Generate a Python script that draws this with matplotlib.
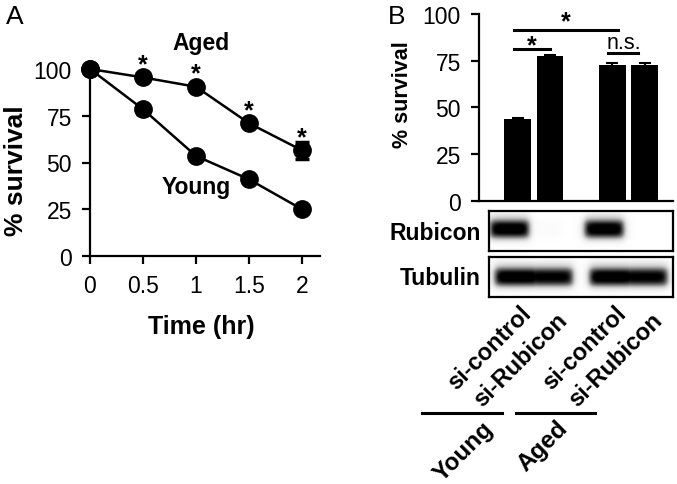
import numpy as np
import matplotlib
matplotlib.use("Agg")
import matplotlib.pyplot as plt

plt.rcParams['font.family'] = ['Liberation Sans', 'DejaVu Sans']

# Panel A data
time_hr = [0, 0.5, 1, 1.5, 2]
aged = [100, 95.5, 90.5, 71, 56.5]
aged_err = [0, 1.5, 1.5, 1.5, 4.5]
young = [100, 78.5, 53.5, 41, 25]
young_err = [0, 2.5, 1, 1, 1]
star_times = [0.5, 1, 1.5, 2]

# Panel B data
conditions = ['si-control', 'si-Rubicon', 'si-control', 'si-Rubicon']
groups = ['Young', 'Aged']
survival = [43.5, 77.5, 72.5, 72.5]
survival_err = [1, 0.5, 1.5, 1]
rubicon_level = [1.0, 0.03, 1.0, 0.0]
tubulin_level = [1.0, 0.95, 1.0, 0.95]

W, H = 677, 485
fig = plt.figure(figsize=(W / 100, H / 100), dpi=100)


def box(l, t, r, b):
    return [l / W, 1 - b / H, (r - l) / W, (b - t) / H]


def style(ax):
    for s in ['top', 'right']:
        ax.spines[s].set_visible(False)
    for s in ['left', 'bottom']:
        ax.spines[s].set_linewidth(1.6)
    ax.tick_params(width=1.6, length=6, labelsize=16.5, pad=7)


# ---------- Panel A ----------
axA = fig.add_axes(box(90, 70, 320, 257))
style(axA)
for vals, errs in [(aged, aged_err), (young, young_err)]:
    axA.errorbar(time_hr, vals, yerr=errs, color='black', lw=1.8, marker='o',
                 ms=12.5, capsize=5, capthick=2.5, elinewidth=2.5,
                 clip_on=False, zorder=3)
axA.set_xlim(0, 2.17)
axA.set_ylim(0, 100)
axA.set_xticks(time_hr)
axA.set_xticklabels(['0', '0.5', '1', '1.5', '2'])
axA.set_yticks([0, 25, 50, 75, 100])
for t in star_times:
    axA.annotate('*', (t, aged[time_hr.index(t)]), xytext=(0, 1),
                 textcoords='offset points', ha='center', va='bottom',
                 fontsize=18, fontweight='bold')
axA.text(1.05, 114, 'Aged', ha='center', va='center', fontsize=16.5, fontweight='bold')
axA.text(1.0, 37, 'Young', ha='center', va='center', fontsize=16.5, fontweight='bold')
axA.set_xlabel('Time (hr)', fontsize=18, fontweight='bold', va='center')
axA.xaxis.set_label_coords(0.483, -0.374)
axA.set_ylabel('% survival', fontsize=19, fontweight='bold', va='center')
axA.yaxis.set_label_coords(-0.322, 0.46)
fig.text(6 / W, 1 - 17 / H, 'A', fontsize=19, va='center')

# ---------- Panel B bars ----------
bar_x = [1, 2, 3.92, 4.92]
axB = fig.add_axes(box(479, 15, 673, 201.7))
style(axB)
axB.bar(bar_x, survival, width=0.83, color='black', yerr=survival_err,
        capsize=4, error_kw=dict(elinewidth=1.5, capthick=1.5))
axB.set_xlim(-0.185, 5.785)
axB.set_ylim(0, 100)
axB.set_yticks([0, 25, 50, 75, 100])
axB.set_xticks([])
axB.set_ylabel('% survival', fontsize=15.5, fontweight='bold', va='center')
axB.yaxis.set_label_coords(-0.392, 0.571)


def sig(x0, x1, y, label, dy, size, weight):
    axB.plot([x0, x1], [y, y], color='black', lw=2.2, clip_on=False)
    axB.text((x0 + x1) / 2, y + dy, label, ha='center', va='center',
             fontsize=size, fontweight=weight)


sig(0.9, 4.08, 91.5, '*', 4.5, 18, 'bold')
sig(0.9, 2.0, 81.5, '*', 1.5, 18, 'bold')
sig(3.8, 4.72, 79, 'n.s.', 6, 15.5, 'normal')
fig.text(388 / W, 1 - 17 / H, 'B', fontsize=19, va='center')


# ---------- Panel B blots ----------
def blot(ax, levels, offset, hw, yc, hh):
    xlo, xhi = 0.123, 5.785
    xs = np.linspace(xlo, xhi, 400)
    ys = np.linspace(0, 1, 80)
    X, Y = np.meshgrid(xs, ys)
    img = np.zeros_like(X)
    for c, a in zip(bar_x, levels):
        px = 1 / (1 + np.exp((np.abs(X - c - offset) - hw) / 0.06))
        py = 1 / (1 + np.exp((np.abs(Y - yc) - hh) / 0.05))
        halo = 0.25 / (1 + np.exp((np.abs(X - c - offset) - hw * 1.05) / 0.08)) \
            / (1 + np.exp((np.abs(Y - yc + 0.05) - hh * 1.7) / 0.06))
        img = np.maximum(img, a * (0.85 * px * py + halo))
    ax.imshow(img, extent=(xlo, xhi, 0, 1), origin='upper', aspect='auto',
              cmap='Greys', vmin=0, vmax=1, interpolation='bilinear')
    ax.set_xlim(xlo, xhi)
    ax.set_ylim(0, 1)
    ax.set_xticks([])
    ax.set_yticks([])
    for s in ax.spines.values():
        s.set_linewidth(1.6)


axR = fig.add_axes(box(489, 212, 673, 252))
blot(axR, rubicon_level, -0.25, 0.6, 0.45, 0.2)
axT = fig.add_axes(box(489, 258, 673, 298))
blot(axT, tubulin_level, 0.0, 0.7, 0.5, 0.2)
fig.text(481 / W, 1 - 234 / H, 'Rubicon', ha='right', va='center',
         fontsize=16.5, fontweight='bold')
fig.text(481 / W, 1 - 279 / H, 'Tubulin', ha='right', va='center',
         fontsize=16.5, fontweight='bold')

# rotated condition labels
for c, lab in zip(bar_x, conditions):
    xpx = 517.5 + (c - 1) * 32.5
    if lab == 'si-control':
        ax_, ay_ = xpx + 2, 302
    else:
        ax_, ay_ = xpx + 6, 309
    fig.text(ax_ / W, 1 - ay_ / H, lab, rotation=45, rotation_mode='anchor',
             ha='right', va='top', fontsize=17, fontweight='bold')

# group lines and labels
for (l, r), g, end in zip([(422, 502), (516, 595)], groups, [(482, 417), (556, 417)]):
    fig.add_artist(plt.Line2D([l / W, r / W], [1 - 414 / H, 1 - 414 / H],
                              color='black', lw=2.2))
    fig.text(end[0] / W, 1 - end[1] / H, g, rotation=45, rotation_mode='anchor',
             ha='right', va='top', fontsize=17.5, fontweight='bold')

fig.savefig('out.png', dpi=100)
